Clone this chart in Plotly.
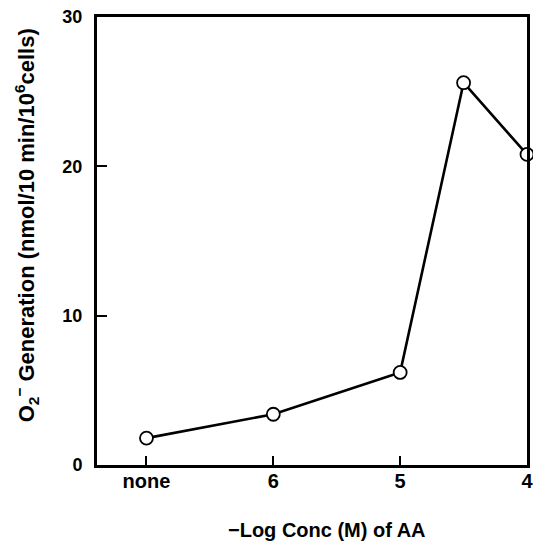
import plotly.graph_objects as go

# -log molar concentration of arachidonic acid ("none" = no AA added)
conc_labels = ["none", "6", "5", "4.5", "4"]
neg_log_conc = [7.0, 6.0, 5.0, 4.5, 4.0]   # "none" placed one step left of 6
o2_generation = [1.8, 3.4, 6.2, 25.6, 20.8]

x_tick_vals = [7, 6, 5, 4]
x_tick_text = ["none", "6", "5", "4"]
y_tick_vals = [0, 10, 20, 30]

FONT = "Liberation Sans, Arial, sans-serif"

fig = go.Figure()
fig.add_trace(go.Scatter(
    x=neg_log_conc,
    y=o2_generation,
    text=conc_labels,
    mode="lines+markers",
    line=dict(color="black", width=2.6),
    marker=dict(symbol="circle", size=13, color="white",
                line=dict(color="black", width=1.8)),
    cliponaxis=False,
    showlegend=False,
))

fig.update_layout(
    width=533, height=543,
    margin=dict(l=97, r=6, t=17, b=78),
    paper_bgcolor="white",
    plot_bgcolor="white",
    font=dict(family=FONT, color="black"),
)

fig.update_xaxes(
    range=[7.39, 4.0],
    automargin=False,
    tickmode="array",
    tickvals=x_tick_vals,
    ticktext=x_tick_text,
    ticks="inside",
    ticklen=9,
    tickwidth=2,
    tickcolor="black",
    tickfont=dict(size=20, family=FONT, weight="bold"),
    ticklabelstandoff=-4,
    ticklabeloverflow="allow",
    showline=True,
    linecolor="black",
    linewidth=3,
    mirror=True,
    showgrid=False,
    zeroline=False,
)

fig.update_yaxes(
    range=[0, 30],
    automargin=False,
    tickmode="array",
    tickvals=y_tick_vals,
    ticks="inside",
    ticklen=10,
    tickwidth=2,
    tickcolor="black",
    tickfont=dict(size=18, family=FONT, weight="bold"),
    ticklabelstandoff=8,
    showline=True,
    linecolor="black",
    linewidth=3,
    mirror=True,
    showgrid=False,
    zeroline=False,
)

# axis titles
fig.add_annotation(
    text="<b>\u2212Log Conc (M) of AA</b>",
    xref="paper", yref="paper", x=0.535, y=-0.145,
    xanchor="center", yanchor="middle", showarrow=False,
    font=dict(size=20, family=FONT),
)
fig.add_annotation(
    text="<b>O<sub>2</sub><sup>\u2212</sup> Generation (nmol/10 min/10<sup>6</sup>cells)</b>",
    xref="paper", yref="paper", x=-0.165, y=0.535,
    xanchor="center", yanchor="middle", showarrow=False, textangle=-90,
    font=dict(size=22, family=FONT),
)

fig.write_html("out.html")
